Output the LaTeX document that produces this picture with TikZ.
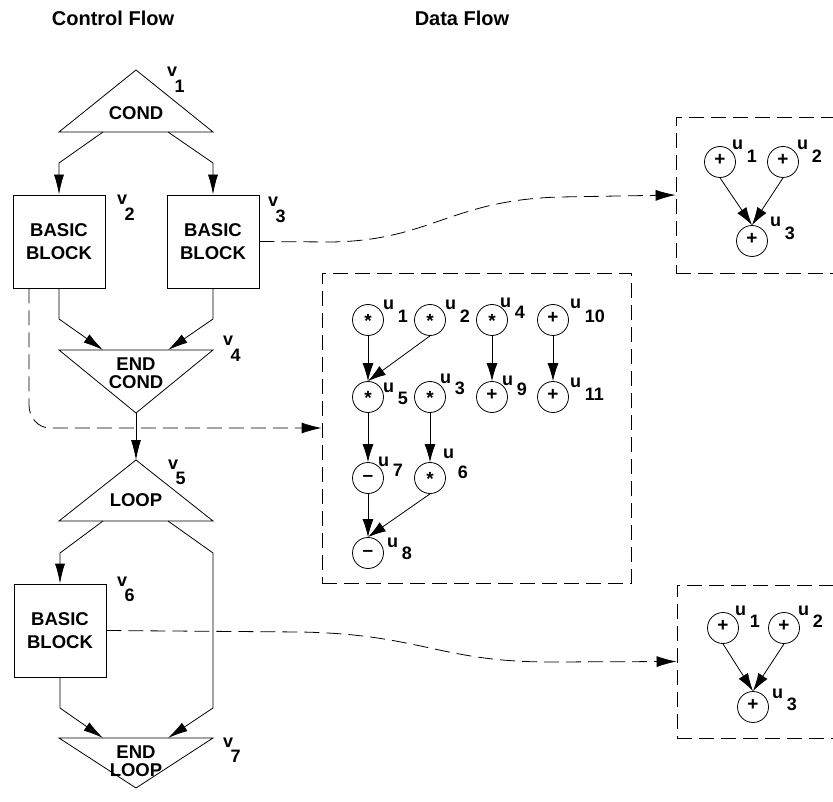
\documentclass[tikz,border=0pt]{standalone}
\usepackage{fontspec}
\setmainfont{Liberation Sans}
\usetikzlibrary{arrows.meta}

\newcommand\vlab[1]{v\kern-0.15em\raisebox{-0.85em}{#1}}
\newcommand\ulab[2][0.7em]{u\kern0.2em\raisebox{-#1}{#2}}
\newcommand\opmul{\raisebox{-0.22em}{*}}
\newcommand\opadd{+}
\newcommand\opsub{–}

\tikzset{
	flow/.style={-{Latex[length=20pt,width=10pt]}, line width=0.8pt},
	dflow/.style={-{Latex[length=18pt,width=11pt]}, line width=0.8pt},
	link/.style={-{Latex[length=20pt,width=11pt]}, line width=0.8pt, dash pattern=on 15pt off 7pt},
	frame/.style={draw, line width=0.8pt, dash pattern=on 15pt off 7pt, inner sep=0pt},
	block/.style={draw, line width=0.8pt, minimum width=92pt, minimum height=93pt, inner sep=0pt,
		align=center, font=\fontsize{18.5}{23}\selectfont\bfseries},
	condtext/.style={align=center, inner sep=0pt, font=\fontsize{18.5}{18}\selectfont\bfseries},
	op/.style={circle, draw, line width=0.8pt, minimum size=31pt, inner sep=0pt,
		text height=0.7em, text depth=0pt, font=\fontsize{19}{19}\selectfont\bfseries},
	vtag/.style={anchor=base west, inner sep=0pt, font=\fontsize{18}{18}\selectfont\bfseries},
	utag/.style={anchor=base west, inner sep=0pt, font=\fontsize{18}{18}\selectfont\bfseries},
	title/.style={inner sep=0pt, font=\fontsize{20}{20}\selectfont\bfseries}
}

\begin{document}
\begin{tikzpicture}[x=1pt, y=-1pt]
	\useasboundingbox (0,0) rectangle (833,802);

	% titles
	\node[title] (cftitle) at (113,18) {Control Flow};
	\node[title] (dftitle) at (462,18) {Data Flow};

	% control flow
	\draw[line width=0.8pt] (136,70) -- (213,132) -- (59,132) -- cycle;
	\node[condtext] (v1) at (136,113) {COND};
	\coordinate (v1a) at (103,132);
	\coordinate (v1b) at (168,132);

	\node[block] (v2) at (59,241.5) {BASIC\\BLOCK};
	\node[block] (v3) at (213,241.5) {BASIC\\BLOCK};

	\draw[line width=0.8pt] (59,350) -- (213,350) -- (136,413) -- cycle;
	\node[condtext] (v4) at (136,373) {END\\COND};
	\coordinate (v4a) at (103,350);
	\coordinate (v4b) at (168,350);
	\coordinate (v4c) at (136,413);

	\draw[line width=0.8pt] (136,460) -- (213,521) -- (59,521) -- cycle;
	\node[condtext] (v5) at (136,500) {LOOP};
	\coordinate (v5t) at (136,460);
	\coordinate (v5a) at (103,521);
	\coordinate (v5b) at (168,521);

	\node[block] (v6) at (60,630.5) {BASIC\\BLOCK};

	\draw[line width=0.8pt] (59,738) -- (213,738) -- (136,788) -- cycle;
	\node[condtext] (v7) at (136,761) {END\\LOOP};
	\coordinate (v7a) at (103,738);
	\coordinate (v7b) at (168,738);

	\foreach \n/\x/\y in {1/167/77, 2/117/205, 3/268/207, 4/223/346, 5/168/469, 6/117/586, 7/223/747}
		\node[vtag] (lv\n) at (\x,\y) {\vlab{\n}};

	\draw[flow] (v1a) -- (59,163) -- (v2.north);
	\draw[flow] (v1b) -- (213,163) -- (v3.north);
	\draw[flow] (v2.south) -- (59,319) -- (v4a);
	\draw[flow] (v3.south) -- (213,319) -- (v4b);
	\draw[flow] (v4c) -- (v5t);
	\draw[flow] (v5a) -- (60,553) -- (v6.north);
	\draw[flow] (v5b) -- (213,553) -- (213,708) -- (v7b);
	\draw[flow] (v6.south) -- (60,708) -- (v7a);

	% data flow boxes
	\node[frame, minimum width=309pt, minimum height=310pt] (ddg) at (476.5,428) {};
	\node[frame, minimum width=200pt, minimum height=156pt] (dfgt) at (776,195) {};
	\node[frame, minimum width=200pt, minimum height=153pt] (dfgb) at (777,661.5) {};

	\draw[link] ([xshift=-30pt]v2.south) -- (29,405) to[out=-90,in=180] (50,428) -- (ddg.west);
	\draw[link] (v3.east) -- (330,242) .. controls (430,241) and (450,200) .. (560,197) -- (dfgt.west);
	\draw[link] (v6.east) -- (300,632) .. controls (420,634) and (440,662) .. (550,662) -- (dfgb.west);

	% middle graph
	\foreach \n/\x/\y/\s in {1/368/320/\opmul, 2/430/320/\opmul, 4/492/320/\opmul, 10/553/320/\opadd,
		5/368/397/\opmul, 3/430/397/\opmul, 9/492/397/\opadd, 11/553/397/\opadd,
		7/368/478/\opsub, 6/430/478/\opmul, 8/368/553/\opsub}
		\node[op] (m\n) at (\x,\y) {\s};
	\foreach \n/\x/\y/\d in {1/383/310/0.7em, 2/445/310/0.7em, 4/500/308/0.6em, 10/570/309/0.75em,
		5/383/392/0.7em, 3/440/384/0.6em, 9/502/385/0.6em, 11/570/388/0.7em,
		7/378/466/0.6em, 6/443/458/1.15em, 8/387/547/0.7em}
		\node[utag] (lm\n) at (\x,\y) {\ulab[\d]{\n}};

	\foreach \a/\b in {1/5, 4/9, 10/11, 5/7, 3/6, 7/8}
		\draw[dflow] (m\a) -- (m\b);
	\draw[dflow] (m2.south) -- (m5.north);
	\draw[dflow] (m6.south) -- (m8.north);

	% upper right graph
	\foreach \n/\x/\y in {1/720/162, 2/783/162, 3/752/241}
		\node[op] (t\n) at (\x,\y) {\opadd};
	\foreach \n/\x/\y in {1/732/150, 2/797/150, 3/770/227}
		\node[utag] (lt\n) at (\x,\y) {\ulab{\n}};
	\draw[dflow] (t1.south) -- (t3.north);
	\draw[dflow] (t2.south) -- (t3.north);

	% lower right graph
	\foreach \n/\x/\y in {1/723/628, 2/784/628, 3/753/707}
		\node[op] (b\n) at (\x,\y) {\opadd};
	\foreach \n/\x/\y in {1/735/615, 2/798/615, 3/772/698}
		\node[utag] (lb\n) at (\x,\y) {\ulab{\n}};
	\draw[dflow] (b1.south) -- (b3.north);
	\draw[dflow] (b2.south) -- (b3.north);
\end{tikzpicture}
\end{document}
